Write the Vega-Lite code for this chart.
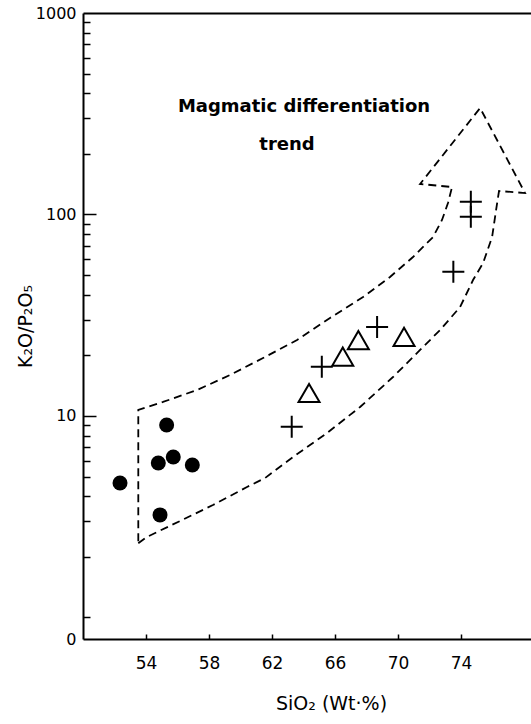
{
  "$schema": "https://vega.github.io/schema/vega-lite/v6.json",
  "width": 448,
  "height": 626,
  "autosize": "none",
  "padding": {"left": 83, "top": 13, "right": 0, "bottom": 85},
  "background": "white",
  "config": {
    "view": {"stroke": null},
    "font": "DejaVu Sans",
    "axis": {
      "domainColor": "black",
      "domainWidth": 2,
      "tickColor": "black",
      "tickWidth": 1.5,
      "labelColor": "black",
      "titleColor": "black",
      "labelFont": "DejaVu Sans",
      "titleFont": "DejaVu Sans",
      "titleFontWeight": "normal",
      "grid": false
    }
  },
  "datasets": {
    "outline": [
      {"i": 1, "sio2": 53.51, "ratio": 2.335},
      {"i": 2, "sio2": 54.04, "ratio": 2.506},
      {"i": 3, "sio2": 56.16, "ratio": 3.012},
      {"i": 4, "sio2": 58.25, "ratio": 3.615},
      {"i": 5, "sio2": 60.41, "ratio": 4.442},
      {"i": 6, "sio2": 61.56, "ratio": 4.924},
      {"i": 7, "sio2": 63.33, "ratio": 6.257},
      {"i": 8, "sio2": 65.49, "ratio": 8.234},
      {"i": 9, "sio2": 67.59, "ratio": 11.08},
      {"i": 10, "sio2": 69.68, "ratio": 15.61},
      {"i": 11, "sio2": 71.40, "ratio": 21.26},
      {"i": 12, "sio2": 72.67, "ratio": 26.73},
      {"i": 13, "sio2": 73.94, "ratio": 34.74},
      {"i": 14, "sio2": 74.76, "ratio": 47.3},
      {"i": 15, "sio2": 75.40, "ratio": 57.45},
      {"i": 16, "sio2": 75.97, "ratio": 77.3},
      {"i": 17, "sio2": 76.29, "ratio": 114.0},
      {"i": 18, "sio2": 76.41, "ratio": 130.8},
      {"i": 19, "sio2": 78.06, "ratio": 127.8},
      {"i": 20, "sio2": 75.21, "ratio": 337.7},
      {"i": 21, "sio2": 71.40, "ratio": 141.7},
      {"i": 22, "sio2": 73.43, "ratio": 136.9},
      {"i": 23, "sio2": 73.17, "ratio": 114.0},
      {"i": 24, "sio2": 72.79, "ratio": 93.9},
      {"i": 25, "sio2": 72.22, "ratio": 77.3},
      {"i": 26, "sio2": 70.95, "ratio": 61.5},
      {"i": 27, "sio2": 69.49, "ratio": 48.97},
      {"i": 28, "sio2": 67.78, "ratio": 38.96},
      {"i": 29, "sio2": 65.68, "ratio": 30.65},
      {"i": 30, "sio2": 63.59, "ratio": 23.83},
      {"i": 31, "sio2": 61.43, "ratio": 19.40},
      {"i": 32, "sio2": 59.33, "ratio": 15.97},
      {"i": 33, "sio2": 57.24, "ratio": 13.46},
      {"i": 34, "sio2": 55.08, "ratio": 11.74},
      {"i": 35, "sio2": 53.51, "ratio": 10.71},
      {"i": 36, "sio2": 53.51, "ratio": 2.335}
    ],
    "samples": [
      {"type": "circle", "sio2": 52.35, "ratio": 4.65},
      {"type": "circle", "sio2": 55.31, "ratio": 9.02},
      {"type": "circle", "sio2": 54.78, "ratio": 5.84},
      {"type": "circle", "sio2": 55.73, "ratio": 6.26},
      {"type": "circle", "sio2": 56.94, "ratio": 5.71},
      {"type": "circle", "sio2": 54.89, "ratio": 3.23},
      {"type": "cross", "sio2": 63.25, "ratio": 8.85},
      {"type": "cross", "sio2": 65.16, "ratio": 17.57},
      {"type": "cross", "sio2": 68.67, "ratio": 27.65},
      {"type": "cross", "sio2": 73.51, "ratio": 52.0},
      {"type": "cross", "sio2": 74.62, "ratio": 115.7},
      {"type": "cross", "sio2": 74.62, "ratio": 97.5},
      {"type": "triangle", "sio2": 64.35, "ratio": 13.0},
      {"type": "triangle", "sio2": 66.49, "ratio": 19.7},
      {"type": "triangle", "sio2": 67.48, "ratio": 23.8},
      {"type": "triangle", "sio2": 70.38, "ratio": 24.7}
    ],
    "notes": [
      {"sio2": 64.03, "ratio": 341.7, "text": "Magmatic differentiation"},
      {"sio2": 62.95, "ratio": 221.3, "text": "trend"}
    ]
  },
  "layer": [
    {
      "data": {"name": "outline"},
      "mark": {"type": "line", "color": "black", "strokeWidth": 1.8, "strokeDash": [8, 5], "clip": true},
      "encoding": {
        "x": {
          "field": "sio2", "type": "quantitative",
          "scale": {"domain": [50, 78.44], "nice": false, "zero": false},
          "axis": {
            "orient": "bottom",
            "values": [54, 58, 62, 66, 70, 74],
            "ticks": false,
            "tickSize": 0,
            "labelFontSize": 17,
            "labelPadding": 16,
            "labelBaseline": "top",
            "title": "SiO₂ (Wt·%)",
            "titleFontSize": 19,
            "titleX": 248,
            "titleY": 70,
            "titleBaseline": "alphabetic",
            "titleAnchor": "middle"
          }
        },
        "y": {
          "field": "ratio", "type": "quantitative",
          "scale": {"type": "log", "domain": [0.782, 1000], "nice": false},
          "axis": {
            "orient": "left",
            "values": [0.782, 10, 100, 1000],
            "ticks": false,
            "tickSize": 0,
            "labelFontSize": 16,
            "labelPadding": 7,
            "labelExpr": "datum.value < 1 ? '0' : format(datum.value, 'd')",
            "title": "K₂O/P₂O₅",
            "titleFontSize": 19,
            "titleX": -58,
            "titleY": 313,
            "titleBaseline": "middle",
            "titleAngle": -90
          }
        },
        "order": {"field": "i", "type": "quantitative"}
      }
    },
    {
      "data": {"name": "notes"},
      "mark": {"type": "text", "font": "DejaVu Sans", "fontWeight": "bold", "fontSize": 18, "color": "black", "baseline": "middle", "align": "center"},
      "encoding": {
        "x": {
          "field": "sio2", "type": "quantitative",
          "scale": {"domain": [50, 78.44], "nice": false, "zero": false},
          "axis": {"orient": "top", "ticks": false, "labels": false, "title": null, "domainWidth": 2}
        },
        "y": {
          "field": "ratio", "type": "quantitative",
          "scale": {"type": "log", "domain": [0.782, 1000], "nice": false},
          "axis": {
            "orient": "right",
            "offset": -448,
            "values": [10, 100],
            "tickSize": 13,
            "labels": false,
            "domain": false,
            "title": null
          }
        },
        "text": {"field": "text", "type": "nominal"}
      }
    },
    {
      "data": {"name": "samples"},
      "transform": [{"filter": "datum.type == 'circle'"}],
      "mark": {"type": "point", "shape": "circle", "filled": true, "size": 225, "color": "black", "opacity": 1},
      "encoding": {
        "x": {
          "field": "sio2", "type": "quantitative",
          "scale": {"domain": [50, 78.44], "nice": false, "zero": false},
          "axis": {
            "orient": "top",
            "offset": -626,
            "values": [54, 58, 62, 66, 70, 74],
            "tickSize": 5,
            "labels": false,
            "domain": false,
            "title": null
          }
        },
        "y": {
          "field": "ratio", "type": "quantitative",
          "scale": {"type": "log", "domain": [0.782, 1000], "nice": false},
          "axis": {
            "orient": "right",
            "offset": -448,
            "values": [1, 2, 3, 4, 5, 6, 7, 8, 9, 20, 30, 40, 50, 60, 70, 80, 90, 200, 300, 400, 500, 600, 700, 800, 900],
            "tickSize": 7,
            "labels": false,
            "domain": false,
            "title": null
          }
        }
      }
    },
    {
      "data": {"name": "samples"},
      "transform": [{"filter": "datum.type == 'cross'"}],
      "mark": {"type": "point", "shape": "M-1,0L1,0M0,-1L0,1", "filled": false, "size": 484, "stroke": "black", "strokeWidth": 2, "opacity": 1},
      "encoding": {
        "x": {"field": "sio2", "type": "quantitative", "scale": {"domain": [50, 78.44], "nice": false, "zero": false}, "axis": null},
        "y": {"field": "ratio", "type": "quantitative", "scale": {"type": "log", "domain": [0.782, 1000], "nice": false}, "axis": null}
      }
    },
    {
      "data": {"name": "samples"},
      "transform": [{"filter": "datum.type == 'triangle'"}],
      "mark": {"type": "point", "shape": "triangle-up", "filled": false, "size": 441, "stroke": "black", "strokeWidth": 2, "opacity": 1},
      "encoding": {
        "x": {"field": "sio2", "type": "quantitative", "scale": {"domain": [50, 78.44], "nice": false, "zero": false}, "axis": null},
        "y": {"field": "ratio", "type": "quantitative", "scale": {"type": "log", "domain": [0.782, 1000], "nice": false}, "axis": null}
      }
    }
  ],
  "resolve": {"axis": {"x": "independent", "y": "independent"}}
}
